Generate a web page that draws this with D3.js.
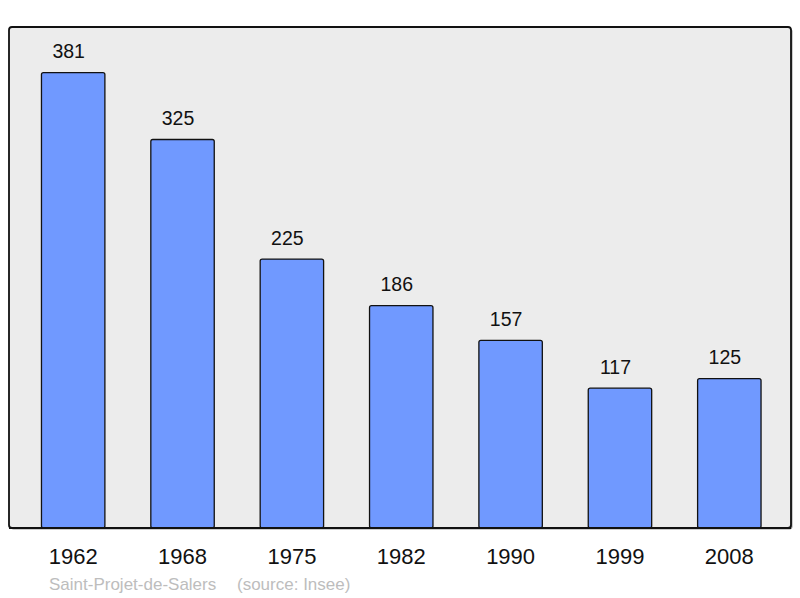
<!DOCTYPE html>
<html><head><meta charset="utf-8">
<script src="https://cdn.jsdelivr.net/npm/d3@7"></script>
<style>body{margin:0;background:#fff}svg{display:block}</style>
</head><body>
<script>
const years = ["1962","1968","1975","1982","1990","1999","2008"];
const population = [381,325,225,186,157,117,125];
const footerName = "Saint-Projet-de-Salers";
const footerSource = "(source: Insee)";

const W = 800, H = 598;
const frame = {x0: 9, y0: 27, x1: 791, y1: 528};
const svg = d3.select("body").append("svg").attr("width", W).attr("height", H)
  .style("font-family", "'Liberation Sans', Arial, sans-serif");

const x = d3.scaleBand().domain(years).range([18.5, 784]).paddingInner(0.42).paddingOuter(0.21);
const y = d3.scaleLinear().domain([0, 381 * 1.1]).range([frame.y1, frame.y0]);

// shadow
svg.append("rect").attr("x", frame.x0 + 1.5).attr("y", frame.y0 + 1.5)
  .attr("width", frame.x1 - frame.x0).attr("height", frame.y1 - frame.y0)
  .attr("rx", 3).attr("fill", "#9a9a9a");
svg.append("rect").attr("x", frame.x0).attr("y", frame.y0)
  .attr("width", frame.x1 - frame.x0).attr("height", frame.y1 - frame.y0)
  .attr("rx", 3).attr("fill", "#ececec").attr("stroke", "#111").attr("stroke-width", 1.8);

const data = years.map((yr, i) => ({yr, v: population[i]}));

svg.selectAll("rect.bar").data(data).enter().append("rect").attr("class", "bar")
  .attr("x", d => x(d.yr)).attr("y", d => y(d.v))
  .attr("width", x.bandwidth()).attr("height", d => frame.y1 - y(d.v))
  .attr("rx", 2).attr("fill", "#7099ff").attr("stroke", "#111").attr("stroke-width", 1.3);

svg.selectAll("text.val").data(data).enter().append("text").attr("class", "val")
  .attr("x", d => x(d.yr) + x.bandwidth() / 2 - 4.5).attr("y", d => y(d.v) - 14.5)
  .attr("text-anchor", "middle").attr("font-size", 19.5).attr("fill", "#111")
  .text(d => d.v);

// redraw frame bottom line over bars
svg.append("line").attr("x1", frame.x0).attr("x2", frame.x1).attr("y1", frame.y1).attr("y2", frame.y1)
  .attr("stroke", "#111").attr("stroke-width", 1.8);

const xAxis = d3.axisBottom(x).tickSize(0).tickPadding(0);
const ax = svg.append("g").attr("transform", `translate(0,${frame.y1})`).call(xAxis);
ax.select(".domain").remove();
ax.selectAll("text").attr("font-size", 22).attr("fill", "#111")
  .attr("font-family", "'Liberation Sans', Arial, sans-serif")
  .attr("dy", null).attr("y", 36);

svg.append("text").attr("x", 49).attr("y", 590).attr("font-size", 17).attr("fill", "#bdbdbd").text(footerName);
svg.append("text").attr("x", 237).attr("y", 590).attr("font-size", 17).attr("fill", "#bdbdbd").text(footerSource);
</script>
</body></html>
